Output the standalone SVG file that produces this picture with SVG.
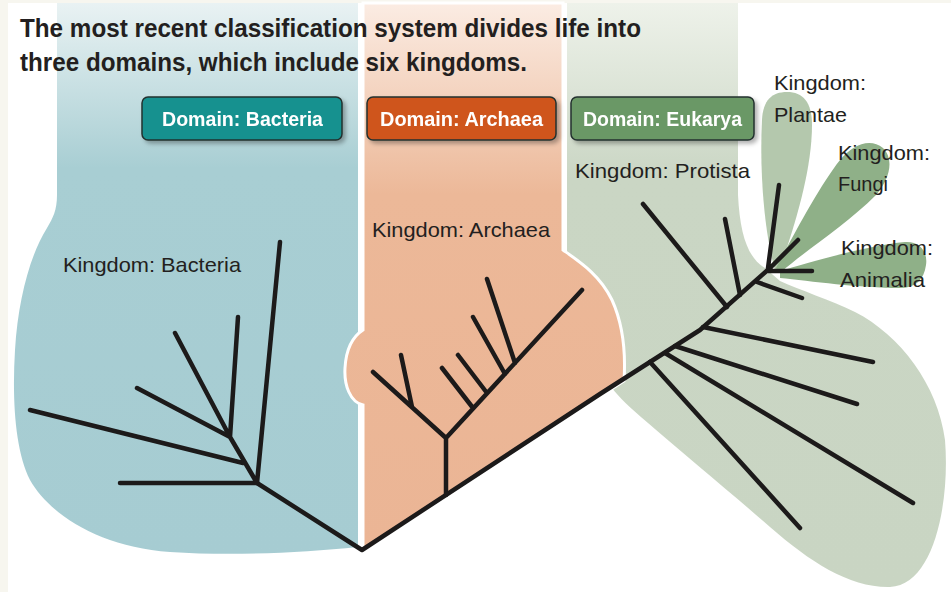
<svg xmlns="http://www.w3.org/2000/svg" width="951" height="592" viewBox="0 0 951 592">
<style>
.title{font-family:"Liberation Sans",Arial,sans-serif;font-weight:bold;font-size:25px;fill:#231f20}
.dom{font-family:"Liberation Sans",Arial,sans-serif;font-weight:bold;font-size:21px;fill:#ffffff}
.king{font-family:"Liberation Sans",Arial,sans-serif;font-size:21px;fill:#231f20}
.box{stroke:#23302f;stroke-width:1.5}
.br{fill:none;stroke:#1c1a1a;stroke-width:4.5;stroke-linecap:round;stroke-linejoin:round}
</style>
<defs>
<linearGradient id="gB" x1="0" y1="0" x2="0" y2="1"><stop offset="0" stop-color="#e9f2f3"/><stop offset="0.3" stop-color="#a8ced3"/><stop offset="1" stop-color="#a6ccd2"/></linearGradient>
<linearGradient id="gA" x1="0" y1="0" x2="0" y2="1"><stop offset="0" stop-color="#fbece3"/><stop offset="0.35" stop-color="#ecb898"/><stop offset="1" stop-color="#ebb595"/></linearGradient>
<linearGradient id="gE" x1="0" y1="0" x2="0" y2="1"><stop offset="0" stop-color="#eef2ea"/><stop offset="0.3" stop-color="#cad6c4"/><stop offset="1" stop-color="#c9d5c3"/></linearGradient>
<filter id="sh" x="-10%" y="-20%" width="130%" height="160%"><feDropShadow dx="3" dy="3" stdDeviation="2" flood-color="#000" flood-opacity="0.3"/></filter>
</defs>
<rect width="951" height="592" fill="#f7f6ef"/>
<rect x="8" y="3" width="943" height="589" fill="#ffffff"/>

<g id="region-bacteria">
<path d="M57,3 H358 V547 C300,553 230,556 170,552 C100,547 50,515 30,480 C15,450 12,400 15,350 C18,300 30,255 47,228 C53,218 57,210 57,195 Z" fill="url(#gB)"/>
</g>
<g id="region-eukarya">
<path d="M567,3 H738 V195 C740,235 748,258 765,268 L780,281 C800,290 830,300 855,312 C900,335 938,385 945,440 C950,500 935,585 890,587 C850,588 810,562 770,527 C730,492 685,455 648,423 C630,408 618,396 612,388 L567,388 Z" fill="url(#gE)"/>
<path d="M775,270 C766,240 759,180 762,120 C763,100 772,92 787,92 C803,92 812,102 812,125 C812,170 795,225 780,268 Z" fill="#b4c8ad"/>
<path d="M776,268 C792,238 820,185 840,160 C852,145 870,137 883,148 C895,160 889,180 876,195 C846,225 806,250 780,273 Z" fill="#8fb088"/>
<path d="M780,271 C810,262 870,245 905,242 C920,241 928,252 926,265 C924,280 915,288 900,288 C860,288 810,281 780,278 Z" fill="#8fb088"/>
</g>
<g id="region-archaea">
<path d="M363,3 H563 V250 C580,262 600,275 612,300 C622,322 626,350 624,381 L363,550 V405 C350,402 344,385 345,368 C346,350 352,337 363,330 Z" fill="url(#gA)" stroke="#ffffff" stroke-width="3"/>
</g>

<g id="title">
<text class="title" x="20" y="37" textLength="621" lengthAdjust="spacingAndGlyphs">The most recent classification system divides life into</text>
<text class="title" x="20" y="71" textLength="507" lengthAdjust="spacingAndGlyphs">three domains, which include six kingdoms.</text>
</g>

<g id="domain-bacteria" filter="url(#sh)">
<rect class="box" x="142" y="97" width="200" height="43" rx="6" fill="#13918f"/>
<text class="dom" x="162" y="126" textLength="161" lengthAdjust="spacingAndGlyphs">Domain: Bacteria</text>
</g>
<g id="domain-archaea" filter="url(#sh)">
<rect class="box" x="367" y="97" width="189" height="43" rx="6" fill="#cf541b"/>
<text class="dom" x="380" y="126" textLength="163" lengthAdjust="spacingAndGlyphs">Domain: Archaea</text>
</g>
<g id="domain-eukarya" filter="url(#sh)">
<rect class="box" x="571" y="97" width="183" height="43" rx="6" fill="#6b9866"/>
<text class="dom" x="583" y="126" textLength="159" lengthAdjust="spacingAndGlyphs">Domain: Eukarya</text>
</g>

<g id="kingdom-bacteria"><text class="king" x="63" y="272" textLength="178" lengthAdjust="spacingAndGlyphs">Kingdom: Bacteria</text></g>
<g id="kingdom-archaea"><text class="king" x="372" y="237" textLength="178" lengthAdjust="spacingAndGlyphs">Kingdom: Archaea</text></g>
<g id="kingdom-protista"><text class="king" x="575" y="178" textLength="175" lengthAdjust="spacingAndGlyphs">Kingdom: Protista</text></g>
<g id="kingdom-plantae"><text class="king" x="774" y="90" textLength="92" lengthAdjust="spacingAndGlyphs">Kingdom:</text><text class="king" x="774" y="122" textLength="73" lengthAdjust="spacingAndGlyphs">Plantae</text></g>
<g id="kingdom-fungi"><text class="king" x="838" y="160" textLength="92" lengthAdjust="spacingAndGlyphs">Kingdom:</text><text class="king" x="838" y="191" textLength="50" lengthAdjust="spacingAndGlyphs">Fungi</text></g>
<g id="kingdom-animalia"><text class="king" x="841" y="255" textLength="92" lengthAdjust="spacingAndGlyphs">Kingdom:</text><text class="king" x="840" y="287" textLength="85" lengthAdjust="spacingAndGlyphs">Animalia</text></g>

<g id="connectors">
<path class="br" d="M257,483 L362,550 L600,394 L700,330 L770,268"/>
<path class="br" d="M257,483 L120,483 M257,483 L280,242 M257,483 L230,437 M243,463 L30,410 M230,437 L238,317 M230,437 L175,333 M230,437 L137,388"/>
<path class="br" d="M446,495 L446,438 L373,372 M412,407 L401,355 M446,438 L582,290 M473,408 L442,368 M487,393 L458,355 M505,374 L473,317 M515,363 L487,279"/>
<path class="br" d="M650,362 L800,528 M665,353 L913,503 M675,346 L857,404 M703,327 L873,362 M727,307 L643,204 M740,295 L725,219 M768,268 L779,185 M768,270 L798,240 M768,271 L812,271 M757,282 L802,298"/>
</g>
</svg>
